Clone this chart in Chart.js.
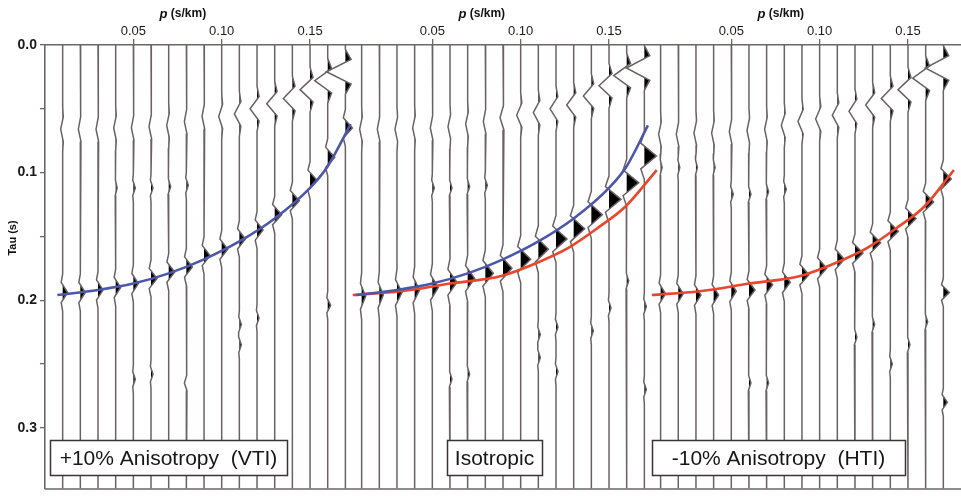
<!DOCTYPE html>
<html><head><meta charset="utf-8">
<style>html,body{margin:0;padding:0;background:#fff;}#wrap{width:961px;height:500px;}</style>
<script src="https://cdn.jsdelivr.net/npm/chart.js@4/dist/chart.umd.min.js"></script>
</head><body><div id="wrap"><canvas id="c" width="961" height="500"></canvas></div>
<script>
// ---------- data ----------
const traceP = [0.01,0.02,0.03,0.04,0.05,0.06,0.07,0.08,0.09,0.10,0.11,0.12,0.13,0.14,0.15,0.16,0.17];
const xTickLabels = [0.05, 0.10, 0.15];
const yTicks = [0, 0.05, 0.10, 0.15, 0.20, 0.25, 0.30];
const panelLabels = ["+10% Anisotropy  (VTI)", "Isotropic", "-10% Anisotropy  (HTI)"];

// main reflection event (black lobe) per trace
const vtiMainTau = [0.194,0.194,0.192,0.190,0.187,0.183,0.178,0.174,0.165,0.160,0.152,0.145,0.133,0.122,0.106,0.088,0.065];
const vtiMainAmp = [5,5,5,5,5,6,6,6,6,6,6,6,7,7,7,7,7];
const isoMainTau = [0.197,0.196,0.194,0.192,0.190,0.186,0.183,0.179,0.175,0.168,0.160,0.152,0.144,0.133,0.121,0.108,0.087];
const isoMainAmp = [4,4,5,5,6,7,7,8,9,10,10,11,11,11,12,12,12];
const htiMainTau = [0.195,0.195,0.196,0.196,0.193,0.192,0.188,0.186,0.180,0.175,0.168,0.163,0.155,0.146,0.136,0.123,0.105];
const htiMainAmp = [5,5,5,5,5,6,6,6,7,7,7,8,8,8,8,8,8];

// shallow event (the leftward "V" wiggles near the top)
const vtiTopTau = [0.066,0.066,0.066,0.065,0.065,0.064,0.063,0.060,0.056,0.056,0.054,0.050,0.046,0.042,0.035,0.028,0.021];
const vtiTopAmp = [-2,-2,-2,-2,-2,-2,-2,-2,-2,-3,-5,-7,-8,-9,-10,-13,-19];
const isoTopTau = [0.066,0.066,0.066,0.065,0.065,0.064,0.062,0.060,0.057,0.055,0.053,0.050,0.047,0.040,0.032,0.024,0.018];
const isoTopAmp = [-2,-2,-2,-2,-2,-2,-2,-2,-3,-4,-5,-6,-7,-8,-10,-13,-18];
const htiTopTau = [0.070,0.070,0.069,0.069,0.068,0.067,0.066,0.063,0.060,0.058,0.055,0.052,0.047,0.042,0.035,0.026,0.018];
const htiTopAmp = [-2,-2,-2,-2,-2,-2,-2,-3,-4,-4,-5,-6,-7,-9,-10,-13,-18];

// small extra events: [trace index, tau, amplitude]
const vtiExtra = [[3,0.112,1.5],[4,0.112,2],[5,0.112,2],[6,0.111,2],[7,0.110,2],[4,0.262,2],[5,0.258,2],[7,0.265,-2],[10,0.219,2],[10,0.235,2],[11,0.214,2],[15,0.204,3]];
const isoExtra = [[4,0.112,2],[5,0.112,2],[6,0.111,2],[7,0.110,2],[5,0.262,2],[6,0.258,2],[10,0.227,2],[10,0.245,2],[11,0.221,2],[11,0.256,2],[13,0.224,2],[14,0.206,2],[15,0.185,2],[16,0.205,2],[16,0.270,2]];
const htiExtra = [[0,0.096,1.5],[1,0.096,1.5],[2,0.096,1.5],[3,0.096,1.5],[4,0.117,2],[5,0.117,2],[6,0.115,2],[7,0.113,2],[5,0.265,2],[6,0.265,2],[11,0.229,2],[12,0.219,2],[13,0.250,2],[14,0.235,2],[15,0.217,2],[16,0.194,6],[16,0.280,4]];

// picked traveltime curves
const vtiCurveP   = [0.007,0.030,0.050,0.070,0.090,0.110,0.130,0.150,0.160,0.173];
const vtiCurveTau = [0.196,0.192,0.187,0.179,0.168,0.154,0.136,0.112,0.095,0.062];
const isoCurveP   = [0.005,0.032,0.060,0.089,0.107,0.127,0.145,0.159,0.177];
const isoCurveTau = [0.196,0.193,0.187,0.181,0.172,0.159,0.142,0.127,0.098];

// ---------- drawing ----------
const SHIFT = 0.1692;          // panel spacing on the shared p axis
const GAIN = 0.000566;         // trace amplitude unit in s/km
const TMAX = 0.3477;
const WAVELET = [[-2.2,0],[-1.2,-0.3],[0,1],[1.2,-0.3],[2.2,0]];
const panels = [
  {mainTau:vtiMainTau, mainAmp:vtiMainAmp, hw:0.0066, topTau:vtiTopTau, topAmp:vtiTopAmp, extra:vtiExtra},
  {mainTau:isoMainTau, mainAmp:isoMainAmp, hw:0.0084, topTau:isoTopTau, topAmp:isoTopAmp, extra:isoExtra},
  {mainTau:htiMainTau, mainAmp:htiMainAmp, hw:0.0068, topTau:htiTopTau, topAmp:htiTopAmp, extra:htiExtra}
];

function buildTrace(base, events){
  let ts = [0, TMAX];
  events.forEach(e => WAVELET.forEach(w => ts.push(e.t + w[0]*e.hw)));
  ts = ts.filter(t => t >= 0 && t <= TMAX).sort((a,b)=>a-b);
  const amp = t => {
    let s = 0;
    events.forEach(e => {
      const u = (t - e.t)/e.hw;
      for (let i=0;i<WAVELET.length-1;i++){
        const a = WAVELET[i], b = WAVELET[i+1];
        if (u >= a[0] && u <= b[0]) { s += e.a*(a[1] + (b[1]-a[1])*(u-a[0])/(b[0]-a[0])); break; }
      }
    });
    return s;
  };
  return ts.map(t => ({x: base + amp(t)*GAIN, y: t}));
}

const datasets = [];
const lineStyle = {type:'scatter', showLine:true, pointRadius:0, fill:false};
panels.forEach((pn, k) => {
  traceP.forEach((p, i) => {
    const base = k*SHIFT + p;
    const ev = [
      {t: pn.mainTau[i], a: pn.mainAmp[i], hw: pn.hw},
      {t: pn.topTau[i], a: pn.topAmp[i], hw: 0.008}
    ];
    pn.extra.filter(e => e[0] === i).forEach(e => ev.push({t:e[1], a:e[2], hw:0.005}));
    datasets.push(Object.assign({}, lineStyle, {
      data: buildTrace(base, ev), baseX: base, isTrace: true,
      borderColor:'#6a6262', borderWidth:1.5, order:2
    }));
  });
});
function curve(ps, ts, k, color){
  return Object.assign({}, lineStyle, {
    data: ps.map((p,i)=>({x:k*SHIFT+p, y:ts[i]})),
    borderColor: color, borderWidth: 2.6, cubicInterpolationMode:'monotone', order:0
  });
}
const BLUE = '#4c57a9', RED = '#e9462b';
datasets.push(curve(vtiCurveP, vtiCurveTau, 0, BLUE));
datasets.push(curve(vtiCurveP.slice(0,9).concat([0.172]), vtiCurveTau.slice(0,9).concat([0.063]), 1, BLUE));
datasets.push(curve(isoCurveP, isoCurveTau, 1, RED));
datasets.push(curve(isoCurveP.slice(0,8).concat([0.176]), isoCurveTau.slice(0,8).concat([0.098]), 2, RED));

const xTickValues = [];
[0,1,2].forEach(k => xTickLabels.forEach(v => xTickValues.push(+(k*SHIFT+v).toFixed(4))));

const FONT = "'Liberation Sans', Arial, Helvetica, sans-serif";

const wigglePlugin = {
  id:'wiggle',
  beforeDatasetsDraw(chart){
    const ctx = chart.ctx, xs = chart.scales.x, a = chart.chartArea;
    ctx.save();
    ctx.beginPath(); ctx.rect(a.left, a.top, a.right-a.left, a.bottom-a.top); ctx.clip();
    ctx.fillStyle = '#000';
    chart.data.datasets.forEach((ds, di) => {
      if (!ds.isTrace) return;
      const pts = chart.getDatasetMeta(di).data;
      const bx = xs.getPixelForValue(ds.baseX);
      ctx.beginPath(); ctx.moveTo(bx, pts[0].y);
      for (let j=0;j<pts.length;j++){
        const p = pts[j];
        if (j>0){
          const q = pts[j-1], dq = q.x-bx, d = p.x-bx;
          if ((dq>0 && d<0) || (dq<0 && d>0)) { const t = dq/(dq-d); ctx.lineTo(bx, q.y + t*(p.y-q.y)); }
        }
        ctx.lineTo(Math.max(p.x,bx), p.y);
      }
      ctx.lineTo(bx, pts[pts.length-1].y); ctx.closePath(); ctx.fill();
    });
    ctx.restore();
  },
  afterDraw(chart){
    const ctx = chart.ctx, xs = chart.scales.x, a = chart.chartArea;
    ctx.save();
    // bottom frame line
    ctx.strokeStyle = '#6d6666'; ctx.lineWidth = 1.5;
    ctx.beginPath(); ctx.moveTo(a.left, a.bottom+0.5); ctx.lineTo(a.right, a.bottom+0.5); ctx.stroke();
    // axis titles
    ctx.fillStyle = '#111'; ctx.textBaseline = 'middle';
    [0,1,2].forEach(k => {
      const cx = xs.getPixelForValue(k*SHIFT + 0.078);
      ctx.font = "italic bold 13px " + FONT;
      const w1 = ctx.measureText('p').width;
      ctx.font = "bold 12px " + FONT;
      const w2 = ctx.measureText(' (s/km)').width;
      const x0 = cx - (w1+w2)/2;
      ctx.textAlign = 'left';
      ctx.font = "italic bold 13px " + FONT; ctx.fillText('p', x0, 14);
      ctx.font = "bold 12px " + FONT; ctx.fillText(' (s/km)', x0+w1, 14);
    });
    ctx.save(); ctx.translate(13, 238); ctx.rotate(-Math.PI/2);
    ctx.textAlign = 'center'; ctx.font = "bold 11px " + FONT; ctx.fillText('Tau (s)', 0, 0); ctx.restore();
    // panel label boxes
    const boxes = [[50,287],[447,542],[652,905]];
    ctx.font = "21px " + FONT; ctx.textAlign = 'center';
    panelLabels.forEach((txt, i) => {
      const [l, r] = boxes[i];
      ctx.fillStyle = '#fff'; ctx.fillRect(l, 440, r-l, 35);
      ctx.strokeStyle = '#3a3535'; ctx.lineWidth = 1.5; ctx.strokeRect(l+0.5, 440.5, r-l, 35);
      ctx.fillStyle = '#161616'; ctx.fillText(txt, (l+r)/2, 459);
    });
    ctx.restore();
  }
};

new Chart(document.getElementById('c'), {
  type:'scatter',
  data:{datasets},
  options:{
    responsive:false, animation:false, devicePixelRatio:1,
    layout:{padding:{left:0,right:0,top:0,bottom:3}},
    plugins:{legend:{display:false}, tooltip:{enabled:false}},
    scales:{
      x:{type:'linear', position:'top', min:0, max:0.5184,
        afterBuildTicks: s => { s.ticks = xTickValues.map(v=>({value:v})); },
        afterFit: s => { s.height = 45; },
        ticks:{padding:0, color:'#1a1a1a', font:{family:FONT, size:13},
          callback: v => (v - Math.floor((v+1e-6)/SHIFT)*SHIFT).toFixed(2), maxRotation:0, autoSkip:false},
        grid:{drawOnChartArea:false, drawTicks:true, tickLength:6, color:'#6d6666', lineWidth:1.3},
        border:{display:true, color:'#6d6666', width:1.6}
      },
      y:{type:'linear', position:'left', reverse:true, min:0, max:TMAX,
        afterBuildTicks: s => { s.ticks = yTicks.map(v=>({value:v})); },
        afterFit: s => { s.width = 45; },
        ticks:{padding:3, color:'#1a1a1a', font:{family:FONT, size:14, weight:'bold'}, autoSkip:false,
          callback: (v) => (Math.round(v*100) % 10 === 0) ? v.toFixed(1) : ''},
        grid:{drawOnChartArea:false, drawTicks:true, tickLength:5, color:'#6d6666', lineWidth:1.3},
        border:{display:true, color:'#6d6666', width:1.6}
      }
    }
  },
  plugins:[wigglePlugin]
});
</script></body></html>
